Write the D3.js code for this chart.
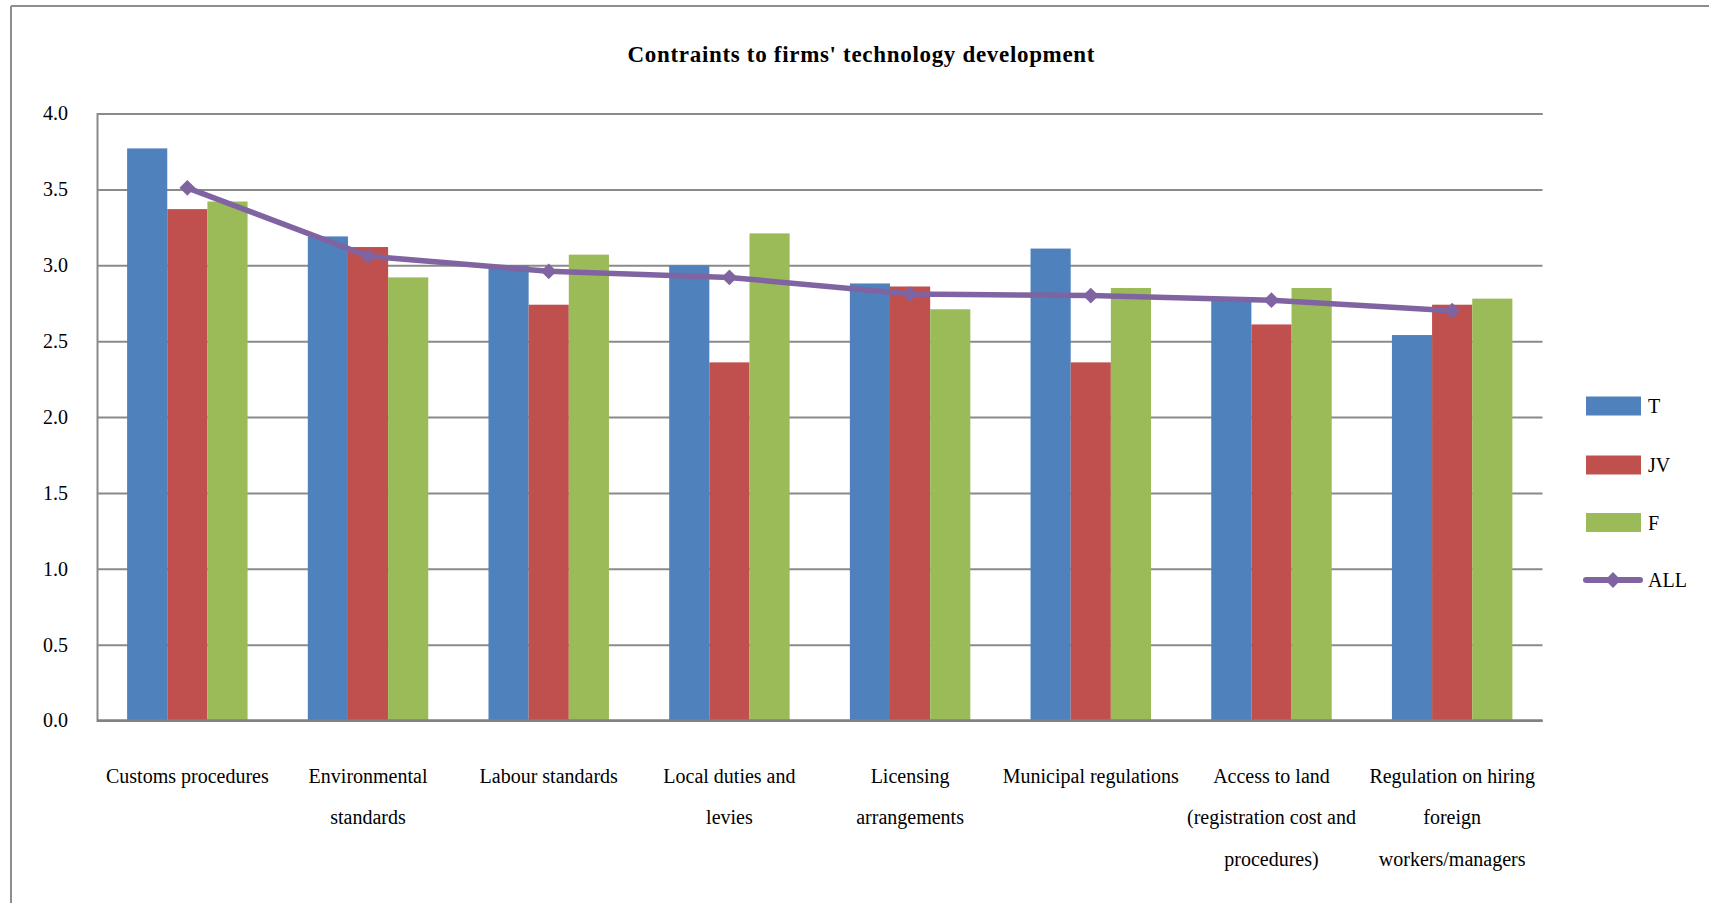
<!DOCTYPE html>
<html>
<head>
<meta charset="utf-8">
<script src="https://cdn.jsdelivr.net/npm/d3@7"></script>
<style>
  html, body { margin: 0; padding: 0; background: #ffffff; }
  svg { display: block; }
  text { font-family: "Liberation Serif", "Times New Roman", serif; fill: #000; }
</style>
</head>
<body>
<svg id="chart" width="1709" height="903"></svg>
<script>
// Categories (line breaks mark where each axis label wraps)
const categories = [
  "Customs procedures",
  "Environmental\nstandards",
  "Labour standards",
  "Local duties and\nlevies",
  "Licensing\narrangements",
  "Municipal regulations",
  "Access to land\n(registration cost and\nprocedures)",
  "Regulation on hiring\nforeign\nworkers/managers"
];

// Mean constraint scores by firm type
const seriesNames = ["T", "JV", "F"];
const valuesT  = [3.77, 3.19, 3.00, 3.00, 2.88, 3.11, 2.78, 2.54];
const valuesJV = [3.37, 3.12, 2.74, 2.36, 2.86, 2.36, 2.61, 2.74];
const valuesF  = [3.42, 2.92, 3.07, 3.21, 2.71, 2.85, 2.85, 2.78];
// Average over all firms
const valuesALL = [3.51, 3.06, 2.96, 2.92, 2.81, 2.80, 2.77, 2.70];

const yTicks = [0, 0.5, 1.0, 1.5, 2.0, 2.5, 3.0, 3.5, 4.0];
const titleText = "Contraints to firms' technology development";

const colors = { T: "#4F81BD", JV: "#C0504D", F: "#9BBB59", ALL: "#8064A2" };
const seriesValues = { T: valuesT, JV: valuesJV, F: valuesF };

const svg = d3.select("#chart");

// Chart area frame (left and top edges)
svg.append("line").attr("x1", 11).attr("y1", 6).attr("x2", 11).attr("y2", 903)
  .attr("stroke", "#8e8e8e").attr("stroke-width", 2);
svg.append("line").attr("x1", 11).attr("y1", 6).attr("x2", 1709).attr("y2", 6)
  .attr("stroke", "#8e8e8e").attr("stroke-width", 2);

const plot = { left: 97, right: 1542.5, top: 113.5, bottom: 720.5 };
const width = plot.right - plot.left;
const height = plot.bottom - plot.top;

const g = svg.append("g").attr("transform", `translate(${plot.left},${plot.top})`);

const x0 = d3.scaleBand().domain(categories).range([0, width]).paddingInner(0).paddingOuter(0);
const x1 = d3.scaleBand().domain(seriesNames).range([0, x0.bandwidth()])
  .paddingInner(0).paddingOuter(0.75);
const y = d3.scaleLinear().domain([0, 4]).range([height, 0]);

// Gridlines + y tick labels
const yAxis = d3.axisLeft(y).tickValues(yTicks).tickFormat(d3.format(".1f"))
  .tickSize(-width).tickPadding(29);
const yg = g.append("g").call(yAxis);
yg.select(".domain").attr("stroke", "#8a8a8a").attr("stroke-width", 2);
yg.selectAll(".tick line").attr("stroke", "#8a8a8a").attr("stroke-width", 2);
yg.selectAll(".tick text")
  .style("font-family", "'Liberation Serif', serif").style("font-size", "20px").attr("fill", "#000");

// Bars
const groups = g.selectAll(".cat").data(categories).enter().append("g")
  .attr("class", "cat").attr("transform", d => `translate(${x0(d)},0)`);

groups.selectAll("rect")
  .data((c, i) => seriesNames.map(s => ({ s, v: seriesValues[s][i] })))
  .enter().append("rect")
  .attr("x", d => x1(d.s))
  .attr("width", x1.bandwidth())
  .attr("y", d => y(d.v))
  .attr("height", d => y(0) - y(d.v))
  .attr("fill", d => colors[d.s]);

// Bottom axis line
g.append("line").attr("x1", 0).attr("x2", width).attr("y1", y(0)).attr("y2", y(0))
  .attr("stroke", "#808080").attr("stroke-width", 2.5);

// Category labels
const xAxis = d3.axisBottom(x0).tickSize(0).tickPadding(0).tickFormat("");
const xg = g.append("g").attr("transform", `translate(0,${height})`).call(xAxis);
xg.select(".domain").remove();
xg.selectAll(".tick").each(function(d) {
  const t = d3.select(this).append("text")
    .attr("text-anchor", "middle")
    .style("font-family", "'Liberation Serif', serif")
    .style("font-size", "20px")
    .attr("fill", "#000");
  d.split("\n").forEach((line, i) => {
    t.append("tspan").attr("x", 0).attr("y", 62 + i * 41.5).text(line);
  });
});

// ALL line with diamond markers (squares turned 45°)
const cx = (d, i) => x0(categories[i]) + x0.bandwidth() / 2;
const line = d3.line().x((d, i) => cx(d, i)).y(d => y(d));
g.append("path").datum(valuesALL)
  .attr("d", line).attr("fill", "none")
  .attr("stroke", colors.ALL).attr("stroke-width", 5.5)
  .attr("stroke-linejoin", "round").attr("stroke-linecap", "round");
const diamond = d3.symbol().type(d3.symbolSquare).size(125);
g.selectAll(".mk").data(valuesALL).enter().append("path")
  .attr("class", "mk")
  .attr("d", diamond)
  .attr("transform", (d, i) => `translate(${cx(d, i)},${y(d)}) rotate(45)`)
  .attr("fill", colors.ALL);

// Title
svg.append("text").attr("x", 861).attr("y", 62).attr("text-anchor", "middle")
  .style("font-family", "'Liberation Serif', serif").style("font-weight", "bold")
  .style("font-size", "23px")
  .attr("textLength", 467).attr("lengthAdjust", "spacing")
  .text(titleText);

// Legend
const legendItems = ["T", "JV", "F", "ALL"];
const legend = svg.append("g").attr("transform", "translate(1586,0)");
const legendY = [406, 465, 522.5, 580];
legendItems.forEach((name, i) => {
  const row = legend.append("g").attr("transform", `translate(0,${legendY[i]})`);
  if (name === "ALL") {
    row.append("line").attr("x1", 0).attr("x2", 54).attr("y1", 0).attr("y2", 0)
      .attr("stroke", colors.ALL).attr("stroke-width", 6).attr("stroke-linecap", "round");
    row.append("path").attr("d", diamond).attr("transform", "translate(27,0) rotate(45)")
      .attr("fill", colors.ALL);
  } else {
    row.append("rect").attr("x", 0).attr("y", -9.5).attr("width", 55).attr("height", 19)
      .attr("fill", colors[name]);
  }
  row.append("text").attr("x", 62).attr("y", 7)
    .style("font-family", "'Liberation Serif', serif").style("font-size", "20px")
    .text(name);
});
</script>
</body>
</html>
